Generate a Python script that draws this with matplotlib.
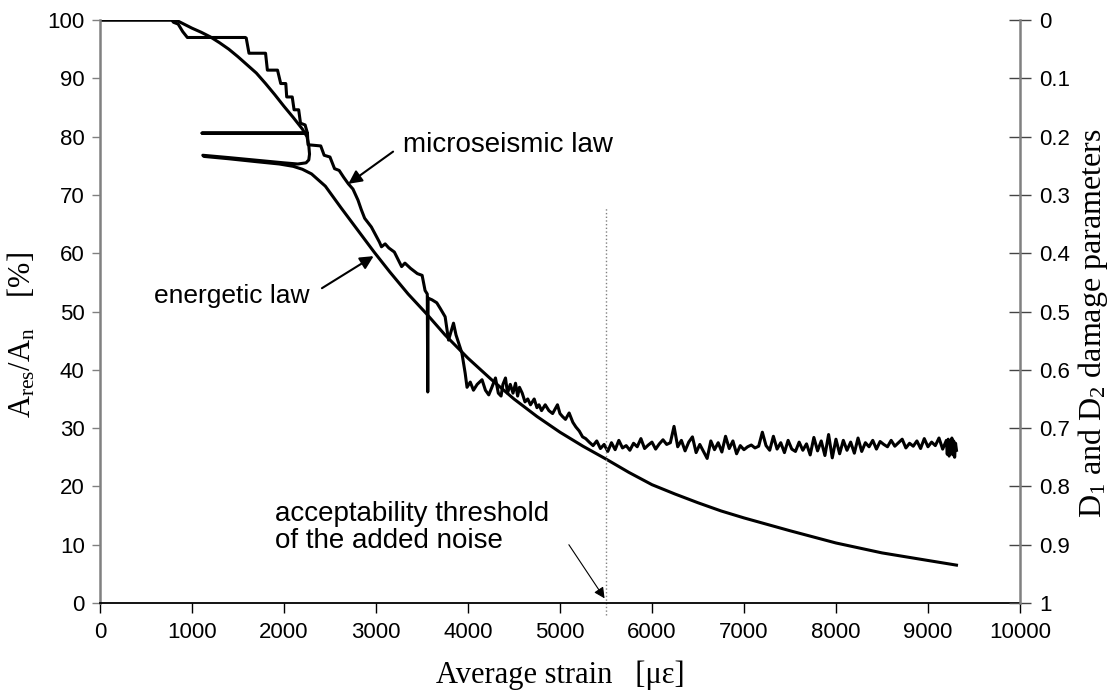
import numpy as np
import matplotlib
matplotlib.use("Agg")
import matplotlib.pyplot as plt

plt.rcParams["font.family"] = ["Liberation Sans", "DejaVu Sans"]
plt.rcParams["mathtext.fontset"] = "custom"
plt.rcParams["mathtext.rm"] = "Liberation Serif"
plt.rcParams["mathtext.it"] = "Liberation Serif:italic"

# energetic law: smooth decline, hook near 2250, return branch from 1100
en_x = [0, 780, 850, 900, 1000, 1100, 1200, 1300, 1400, 1500, 1600, 1700, 1800, 1900,
        2000, 2100, 2200, 2250, 2270, 2278, 2270, 2240, 2150, 2000, 1800, 1600, 1400,
        1118, 1130, 1400, 1700, 1950, 2100, 2200, 2300, 2450, 2620, 2800, 2980, 3150,
        3350, 3550, 3750, 4000, 4250, 4500, 4750, 5000, 5250, 5500, 5750, 6000, 6250,
        6500, 6750, 7000, 7500, 8000, 8500, 9000, 9310]
en_y = [100, 100, 99.8, 99.4, 98.6, 97.9, 97.1, 96.1, 95.0, 93.7, 92.3, 90.9, 89.1, 87.2,
        85.2, 83.3, 81.3, 80.0, 78.5, 77.0, 76.0, 75.5, 75.3, 75.5, 75.8, 76.1, 76.4,
        76.8, 76.6, 76.2, 75.7, 75.3, 74.9, 74.4, 73.6, 71.5, 67.8, 64.0, 60.2, 56.8,
        53.0, 49.6, 46.0, 42.0, 38.4, 35.0, 32.0, 29.3, 26.9, 24.7, 22.4, 20.3, 18.7,
        17.2, 15.8, 14.6, 12.4, 10.3, 8.6, 7.3, 6.5]

# microseismic law: stepped part, jump back to 1100, spike at 3560, noisy decline
mi_x = [0, 780, 800, 850, 900, 950, 1580, 1590, 1620, 1800, 1820, 1930, 1965, 2020,
        2030, 2090, 2110, 2160, 2180, 2230, 2255, 1110, 2255, 2262, 2400, 2437, 2500,
        2550, 2600, 2650, 2700, 2750, 2805, 2840, 2877, 2950, 3038, 3060, 3100, 3140,
        3200, 3279, 3315, 3376, 3450, 3502, 3534, 3558, 3563, 3567, 3610, 3661, 3700,
        3752, 3789, 3843, 3870, 3934, 3970, 3990, 4025, 4060, 4100, 4153, 4190, 4226,
        4260, 4299, 4330, 4360, 4380, 4408, 4430, 4460, 4490, 4517, 4540, 4560, 4590,
        4620, 4650, 4680, 4720, 4750, 4772, 4800, 4840, 4880, 4920, 4973, 5000, 5027,
        5060, 5100, 5140, 5173, 5210, 5246, 5280, 5318, 5360]
mi_y = [100, 100, 99.6, 99.3, 98.0, 97.0, 97.0, 96.9, 94.3, 94.3, 91.4, 91.4, 89.1, 89.1,
        86.8, 86.8, 84.6, 84.6, 82.3, 82.0, 80.6, 80.6, 80.6, 78.6, 78.4, 76.8, 76.5,
        74.5, 74.2, 73.0, 71.9, 71.0, 69.1, 67.5, 66.0, 64.5, 61.9, 61.1, 61.6, 60.9,
        60.2, 57.7, 58.3, 57.4, 56.5, 56.2, 53.6, 53.0, 36.2, 52.3, 52.0, 51.5, 50.5,
        49.1, 45.1, 48.0, 46.0, 42.9, 39.4, 37.0, 37.9, 36.5, 37.5, 38.3, 36.5, 35.7,
        37.0, 38.6, 36.0, 35.5, 37.5, 38.6, 36.0, 37.5, 36.0, 37.7, 35.5, 37.0, 36.0,
        34.5, 35.0, 34.0, 35.0, 33.5, 34.0, 33.0, 34.0, 33.0, 32.5, 34.0, 32.5, 32.0,
        31.5, 32.6, 31.0, 30.2, 29.5, 28.5, 28.2, 27.6, 27.0]

# noisy plateau after the threshold
pl_x = list(range(5400, 9200, 40)) + list(range(9200, 9320, 10))
pl_y = [27.8, 26.5, 27.2, 26.0, 27.5, 26.3, 27.9, 26.6, 27.0, 26.2,
        27.4, 26.8, 28.2, 26.5, 27.1, 27.6, 26.4, 27.3, 28.0, 27.2,
        27.5, 30.3, 26.8, 27.9, 26.1, 27.6, 28.5, 25.8, 27.2, 26.0,
        24.8, 27.8, 26.3, 27.5, 25.9, 28.6, 26.5, 27.8, 25.6, 27.0,
        26.3, 26.8, 27.1, 26.6, 26.9, 29.3, 27.0, 26.2, 28.6, 26.4,
        27.5, 25.8, 27.9, 26.4, 26.0, 27.6, 26.2, 27.3, 25.4, 28.4,
        26.1, 27.8, 25.3, 28.9, 24.9, 28.1, 25.6, 27.9, 26.2, 27.6,
        25.7, 28.3, 26.0, 27.5, 26.8, 27.9, 26.4, 27.7, 27.2, 26.8,
        27.9, 26.9, 27.5, 28.1, 26.6, 27.4, 26.9, 27.8, 26.5, 28.2,
        26.8, 27.6, 27.0, 28.3, 26.4,
        27.9, 25.5, 28.1, 25.2, 27.6, 25.9, 28.3, 25.4, 27.8, 25.0, 27.4, 26.2]

threshold = 5500
right_ticks = [0, 0.1, 0.2, 0.3, 0.4, 0.5, 0.6, 0.7, 0.8, 0.9, 1]
right_labels = ["0", "0.1", "0.2", "0.3", "0.4", "0.5", "0.6", "0.7", "0.8", "0.9", "1"]

fig = plt.figure(figsize=(11.13, 6.99), dpi=100)
ax = fig.add_axes([0.0898, 0.1373, 0.8266, 0.8341])

ax.plot(en_x, en_y, color="black", lw=2.2, solid_joinstyle="round")
ax.plot(mi_x + pl_x, mi_y + pl_y, color="black", lw=2.2, solid_joinstyle="round")
ax.plot([threshold, threshold], [-2, 68], color="gray", ls=":", lw=1, clip_on=False)

ax.set_xlim(0, 10000)
ax.set_ylim(0, 100)
ax.set_xticks(range(0, 10001, 1000))
ax.set_yticks(range(0, 101, 10))
ax.spines["top"].set_visible(False)
ax.spines["right"].set_visible(False)
ax.spines["left"].set_color("gray")
ax.spines["left"].set_linewidth(1.8)
ax.spines["bottom"].set_linewidth(1.3)
ax.tick_params(axis="x", direction="out", length=7, width=1, labelsize=16, pad=7)
ax.tick_params(axis="y", direction="out", length=6, width=1, color="gray", labelsize=16, pad=5)

ax.set_xlabel("Average strain   [με]", family="Liberation Serif", fontsize=22, labelpad=12)
ax.set_ylabel(r"A$_{\mathrm{res}}$/A$_{\mathrm{n}}$    [%]", family="Liberation Serif",
              fontsize=22)
ax.yaxis.set_label_coords(-0.068, 0.46)

ax2 = ax.twinx()
ax2.set_ylim(1, 0)
ax2.set_yticks(right_ticks)
ax2.set_yticklabels(right_labels)
for s in ["top", "left", "bottom"]:
    ax2.spines[s].set_visible(False)
ax2.spines["right"].set_color("gray")
ax2.spines["right"].set_linewidth(1.8)
ax2.tick_params(axis="y", direction="inout", length=16, width=1, color="#444444",
                labelsize=16, pad=6)
ax2.set_ylabel(r"D$_{\mathrm{1}}$ and D$_{\mathrm{2}}$ damage parameters",
               family="Liberation Serif", fontsize=23, labelpad=4)
ax2.yaxis.label.set_y(0.48)

ax.annotate("microseismic law", xy=(2700, 71.9), xytext=(3290, 78.6), fontsize=20,
            va="center", ha="left",
            arrowprops=dict(arrowstyle="-|>", color="black", lw=1.5, mutation_scale=20,
                            shrinkA=6, shrinkB=0, relpos=(0, 0.5)))
ax.annotate("energetic law", xy=(2975, 59.5), xytext=(590, 52.7), fontsize=19,
            va="center", ha="left",
            arrowprops=dict(arrowstyle="-|>", color="black", lw=1.5, mutation_scale=20,
                            shrinkA=8, shrinkB=0, relpos=(1.0, 0.5)))
ax.text(1900, 13.0, "acceptability threshold\nof the added noise", fontsize=20,
        va="center", ha="left", linespacing=1.05)
ax.annotate("", xy=(threshold - 15, 0.8), xytext=(5097, 10.0),
            arrowprops=dict(arrowstyle="-|>", color="black", lw=0.8, mutation_scale=16,
                            shrinkA=0, shrinkB=0))

fig.savefig("out.png", dpi=100)
